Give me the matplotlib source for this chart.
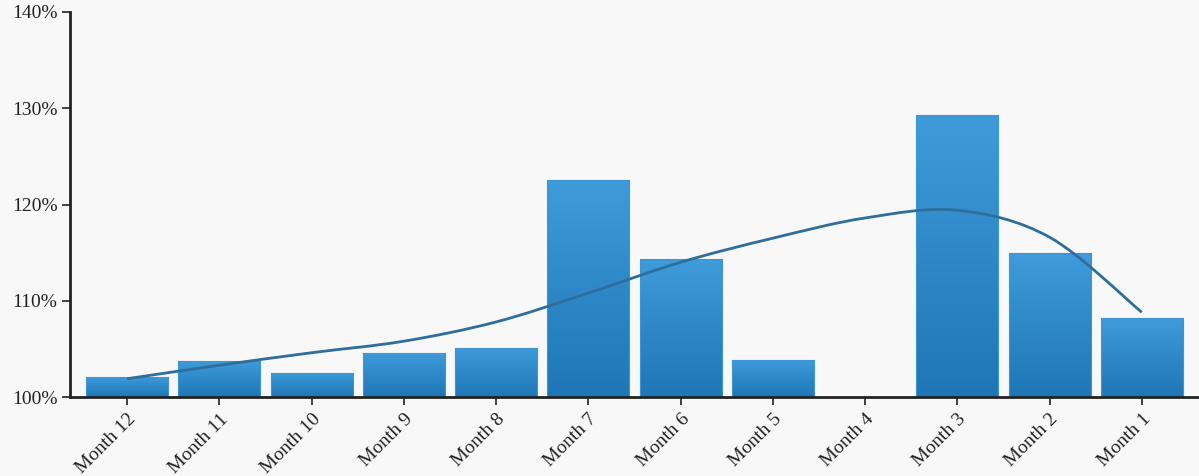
import numpy as np
import matplotlib
matplotlib.use("Agg")
import matplotlib.pyplot as plt
from matplotlib.colors import LinearSegmentedColormap
from matplotlib.patches import Rectangle
from matplotlib.path import Path
from matplotlib.patches import PathPatch

categories = ["Month 12", "Month 11", "Month 10", "Month 9", "Month 8", "Month 7",
              "Month 6", "Month 5", "Month 4", "Month 3", "Month 2", "Month 1"]
values = [102.1, 103.7, 102.5, 104.6, 105.1, 122.5, 114.3, 103.8, 100.0, 129.3, 115.0, 108.2]
trend = [101.9, 103.3, 104.6, 105.8, 107.8, 110.8, 114.0, 116.5, 118.6, 119.4, 116.6, 108.8]
yticks = [100, 110, 120, 130, 140]
ytick_labels = ["100%", "110%", "120%", "130%", "140%"]

plt.rcParams['font.family'] = ['Liberation Serif', 'DejaVu Serif']

W, H = 1199, 476
fig = plt.figure(figsize=(W / 100, H / 100), dpi=100)
bg = "#f8f8f8"
fig.patch.set_facecolor(bg)
ax = fig.add_axes([70 / W, 1 - 397 / H, (1199 - 70) / W, (397 - 12) / H])
ax.set_facecolor(bg)

x = np.arange(len(categories))
bw = 0.89
cmap = LinearSegmentedColormap.from_list("g", ["#1e76b6", "#3f9bda"])
grad = np.linspace(0, 1, 256).reshape(-1, 1)
for xi, v in zip(x, values):
    if v <= 100:
        continue
    rect = Rectangle((xi - bw / 2, 100), bw, v - 100, facecolor="none",
                     edgecolor="#3d95d3", linewidth=0.8, zorder=3)
    ax.add_patch(rect)
    im = ax.imshow(grad, cmap=cmap, origin="lower", aspect="auto",
                   extent=(xi - bw / 2, xi + bw / 2, 100, v), zorder=2)
    im.set_clip_path(rect)

# smooth trend path (Catmull-Rom as cubic Bezier)
pts = np.column_stack([x, trend]).astype(float)
verts = [pts[0]]
codes = [Path.MOVETO]
n = len(pts)
for i in range(n - 1):
    p0 = pts[i - 1] if i > 0 else pts[i]
    p1 = pts[i]
    p2 = pts[i + 1]
    p3 = pts[i + 2] if i + 2 < n else pts[i + 1]
    c1 = p1 + (p2 - p0) / 6
    c2 = p2 - (p3 - p1) / 6
    verts += [c1, c2, p2]
    codes += [Path.CURVE4] * 3
ax.add_patch(PathPatch(Path(verts, codes), facecolor="none", edgecolor="#2e6d9c",
                       linewidth=2.0, zorder=4))

ax.set_xlim(-0.62, 11.62)
ax.set_ylim(100, 140)
ax.set_yticks(yticks)
ax.set_yticklabels(ytick_labels)
ax.set_xticks(x)
ax.set_xticklabels(categories, rotation=45, ha="right", rotation_mode="anchor")

for s in ["top", "right"]:
    ax.spines[s].set_visible(False)
for s in ["left", "bottom"]:
    ax.spines[s].set_color("#222222")
    ax.spines[s].set_linewidth(2)
ax.spines["bottom"].set_zorder(5)
ax.tick_params(axis="both", length=6, width=1.2, color="#222222", labelsize=14,
               labelcolor="#222222")
ax.tick_params(axis="y", pad=3)
ax.tick_params(axis="x", pad=4)

fig.savefig("out.png", dpi=100, facecolor=bg)
